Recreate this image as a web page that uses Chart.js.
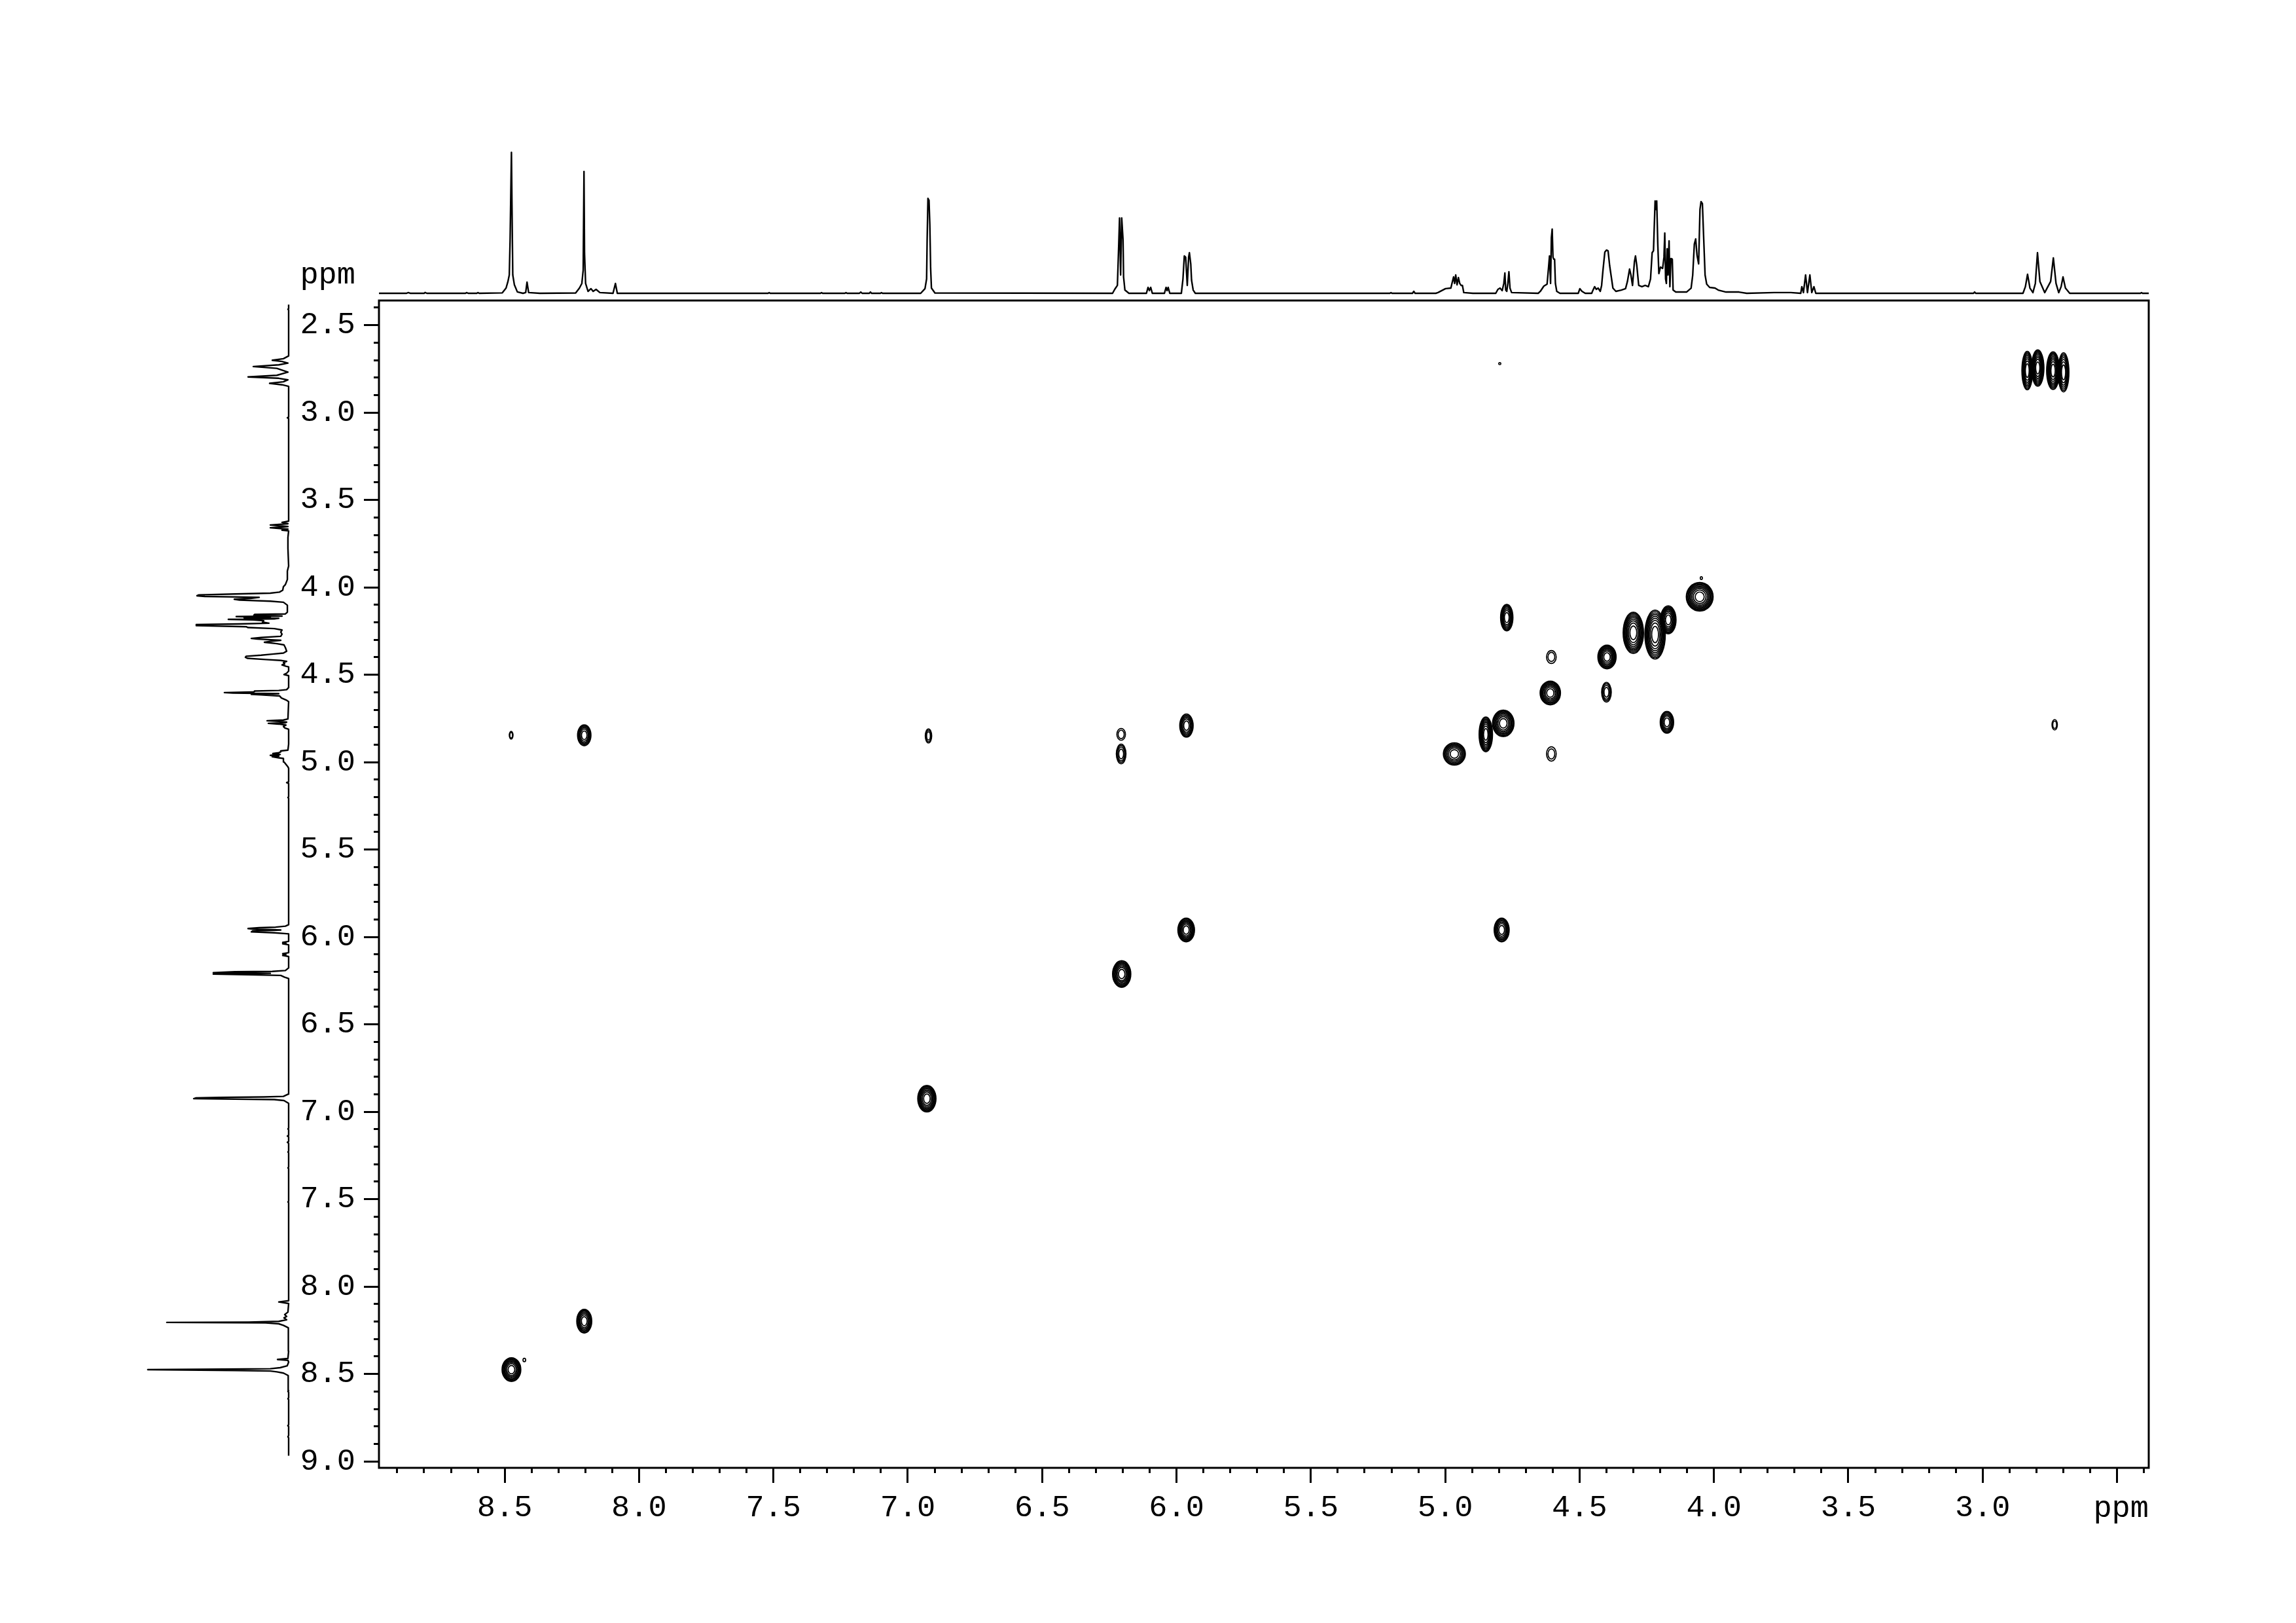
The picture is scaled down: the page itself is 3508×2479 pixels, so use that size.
<!DOCTYPE html>
<html>
<head>
<meta charset="utf-8">
<script src="https://cdn.jsdelivr.net/npm/chart.js@4.4.1/dist/chart.umd.min.js"></script>
<style>
  html, body { margin: 0; padding: 0; background: #fff; }
  body { width: 3508px; height: 2479px; position: relative; overflow: hidden; }
  canvas { position: absolute; }
  #main { left: 0; top: 0; }
  #top { left: 579px; top: 220px; }
  #side { left: 200px; top: 459px; }
</style>
</head>
<body>
<canvas id="main" width="3508" height="2479"></canvas>
<canvas id="top" width="2704" height="230"></canvas>
<canvas id="side" width="243" height="1783"></canvas>
<script>
// 1D proton trace (ppm, relative intensity, tallest line = 100)
const specPpm = [
  8.968, 8.865, 8.859, 8.852, 8.800, 8.796, 8.790, 8.646, 8.642, 8.636,
  8.604, 8.600, 8.595, 8.509, 8.495, 8.488, 8.483, 8.480, 8.475, 8.473,
  8.470, 8.464, 8.453, 8.432, 8.422, 8.417, 8.411, 8.369, 8.236, 8.222,
  8.213, 8.208, 8.205, 8.203, 8.199, 8.190, 8.179, 8.171, 8.160, 8.146,
  8.097, 8.088, 8.081, 7.520, 7.516, 7.512, 7.325, 7.321, 7.317, 7.234,
  7.230, 7.226, 7.180, 7.175, 7.170, 7.143, 7.139, 7.135, 7.102, 7.098,
  7.094, 6.952, 6.936, 6.930, 6.928, 6.925, 6.921, 6.918, 6.915, 6.912,
  6.899, 6.238, 6.230, 6.220, 6.215, 6.212, 6.208, 6.204, 6.199, 6.197,
  6.192, 6.177, 6.112, 6.106, 6.101, 6.096, 6.090, 6.045, 6.039, 6.035,
  6.031, 6.025, 5.982, 5.976, 5.971, 5.966, 5.960, 5.955, 5.952, 5.947,
  5.944, 5.938, 5.930, 5.206, 5.202, 5.198, 5.122, 5.117, 5.112, 5.035,
  5.027, 4.999, 4.979, 4.975, 4.969, 4.965, 4.961, 4.956, 4.951, 4.946,
  4.941, 4.936, 4.931, 4.897, 4.812, 4.804, 4.796, 4.788, 4.782, 4.778,
  4.775, 4.771, 4.767, 4.763, 4.759, 4.753, 4.654, 4.646, 4.633, 4.621,
  4.615, 4.612, 4.608, 4.605, 4.602, 4.599, 4.596, 4.593, 4.590, 4.585,
  4.573, 4.505, 4.499, 4.491, 4.479, 4.455, 4.451, 4.444, 4.438, 4.431,
  4.423, 4.418, 4.413, 4.406, 4.400, 4.394, 4.388, 4.382, 4.376, 4.365,
  4.345, 4.329, 4.322, 4.314, 4.309, 4.303, 4.296, 4.292, 4.287, 4.280,
  4.268, 4.256, 4.244, 4.236, 4.230, 4.225, 4.219, 4.216, 4.213, 4.209,
  4.205, 4.199, 4.191, 4.186, 4.183, 4.180, 4.177, 4.174, 4.171, 4.167,
  4.164, 4.160, 4.155, 4.152, 4.142, 4.102, 4.085, 4.079, 4.073, 4.068,
  4.063, 4.057, 4.052, 4.048, 4.043, 4.038, 4.033, 4.027, 4.016, 3.996,
  3.984, 3.955, 3.907, 3.878, 3.776, 3.714, 3.677, 3.673, 3.667, 3.659,
  3.652, 3.643, 3.636, 3.628, 3.621, 3.034, 3.030, 3.026, 2.850, 2.841,
  2.833, 2.824, 2.813, 2.804, 2.796, 2.787, 2.769, 2.747, 2.737, 2.727,
  2.717, 2.708, 2.701, 2.692, 2.676, 2.413, 2.409, 2.405, 2.382
];
const specInt = [
  0, 0, 0.5, 0, 0, 0.6, 0, 0, 0.5, 0,
  0, 0.5, 0, 0.3, 3.7, 8.4, 13, 37.7, 100, 62.8,
  13, 6, 1, 0, 0.5, 7.9, 0.5, 0, 0.2, 3.7,
  7, 16.3, 86.5, 28.4, 7, 1.4, 3.3, 1.4, 2.8, 0.5,
  0, 7, 0, 0, 0.5, 0, 0, 0.5, 0, 0,
  0.5, 0, 0, 0.9, 0, 0, 0.9, 0, 0, 0.5,
  0, 0, 3.3, 10.2, 38.1, 67.4, 66, 48.8, 17.7, 3.7,
  0.2, 0, 2.8, 5.6, 34.9, 53.5, 13, 53.5, 38.1, 11.6,
  2.3, 0, 0, 4.2, 1.9, 4.2, 0, 0, 4.2, 1.9,
  4.2, 0, 0, 10.2, 26.5, 25.6, 5.6, 25.6, 28.8, 20.9,
  9.3, 2.3, 0, 0, 0.5, 0, 0, 1.4, 0, 0,
  0.5, 3.3, 3.7, 7, 11.6, 7, 13, 6, 11.2, 7,
  5.6, 5.6, 0.5, 0, 0, 2.8, 3.7, 1.9, 7, 14.4,
  2.3, 1.4, 7, 15.3, 3.7, 0.5, 0, 1.4, 5.1, 6.5,
  19.5, 26.5, 7, 39.5, 45.6, 25.6, 24.2, 24.2, 7, 1.4,
  0, 0, 3.3, 1.4, 0, 0, 1.9, 4.7, 2.8, 3.7,
  1.4, 5.6, 16.3, 29.3, 30.7, 30.2, 19.5, 11.6, 3.7, 1.4,
  2.3, 3.3, 8.4, 17.2, 13, 5.6, 22.3, 26.5, 19.5, 5.6,
  4.7, 5.6, 4.7, 10.2, 28.8, 30.2, 65.6, 59.5, 65.6, 34.9,
  14, 18.6, 17.7, 25.6, 42.8, 10.2, 7, 31.6, 13, 37.2,
  4.7, 24.7, 24.2, 2.3, 0.9, 0.9, 3.7, 13, 34.9, 38.6,
  27, 20.9, 59.5, 65.1, 63.7, 38.1, 13, 6.5, 4.2, 3.7,
  2.3, 0.9, 0.9, 0, 0.5, 0.5, 0, 4.7, 0.5, 13,
  0.5, 13, 0.5, 4.7, 0, 0, 0.9, 0, 0, 4.7,
  13.5, 3.7, 0.5, 7, 28.8, 8.4, 0.5, 8.4, 25.1, 7,
  0.5, 4.7, 11.6, 3.7, 0, 0, 0.5, 0, 0
];

// COSY cross peaks: F2 / F1 centre (ppm), half extent (ppm), contour levels
const peakF2 = [8.475, 8.427, 8.204, 8.204, 8.476, 6.929, 6.923, 6.204, 6.206, 6.206,
                5.964, 5.963, 4.790, 4.797, 4.966, 4.849, 4.784, 4.771, 4.605, 4.609,
                4.605, 4.398, 4.400, 4.175, 4.300, 4.219, 4.170, 4.053, 4.047, 2.834,
                2.795, 2.738, 2.699, 2.732];
const peakF1 = [8.475, 8.420, 8.198, 4.846, 4.846, 6.925, 4.850, 6.212, 4.841, 4.953,
                5.960, 4.791, 5.960, 2.720, 4.953, 4.841, 4.778, 4.173, 4.398, 4.604,
                4.953, 4.398, 4.600, 4.772, 4.260, 4.270, 4.186, 4.054, 3.947, 2.760,
                2.745, 2.760, 2.770, 4.786];
const peakHalfF2 = [0.035, 0.005, 0.028, 0.025, 0.007, 0.034, 0.012, 0.034, 0.016, 0.018,
                    0.031, 0.025, 0.028, 0.004, 0.041, 0.025, 0.040, 0.023, 0.018, 0.038,
                    0.018, 0.034, 0.018, 0.025, 0.038, 0.038, 0.029, 0.050, 0.004, 0.020,
                    0.023, 0.024, 0.020, 0.010];
const peakHalfF1 = [0.068, 0.010, 0.068, 0.060, 0.022, 0.076, 0.040, 0.076, 0.034, 0.056,
                    0.068, 0.066, 0.068, 0.006, 0.064, 0.100, 0.076, 0.076, 0.037, 0.068,
                    0.041, 0.068, 0.056, 0.062, 0.118, 0.140, 0.080, 0.082, 0.008, 0.110,
                    0.104, 0.108, 0.112, 0.030];
const peakLevels = [8, 1, 7, 6, 2, 8, 3, 8, 2, 4,
                    8, 6, 7, 1, 7, 9, 8, 7, 2, 8,
                    2, 8, 4, 6, 9, 9, 8, 9, 1, 8,
                    9, 9, 7, 2];

// axes
const f2Min = 2.382, f2Max = 8.968;
const f1Min = 2.359, f1Max = 9.037;
const xTickLabels = ['8.5', '8.0', '7.5', '7.0', '6.5', '6.0', '5.5', '5.0', '4.5', '4.0', '3.5', '3.0'];
const yTickLabels = ['2.5', '3.0', '3.5', '4.0', '4.5', '5.0', '5.5', '6.0', '6.5', '7.0', '7.5', '8.0', '8.5', '9.0'];
const unitLabel = 'ppm';

Chart.defaults.font.family = '"Liberation Mono", "DejaVu Sans Mono", monospace';
Chart.defaults.color = '#000';

const tickFont = { family: '"Liberation Mono", "DejaVu Sans Mono", monospace', size: 47 };
const pick = (labels) => (v) => { const s = Number(v).toFixed(1); return labels.includes(s) ? s : ''; };

const contourPlugin = {
  id: 'contours',
  afterDatasetsDraw(chart) {
    const { ctx, chartArea: a, scales: { x, y } } = chart;
    const meta = chart.getDatasetMeta(0);
    ctx.save();
    ctx.beginPath();
    ctx.rect(a.left, a.top, a.right - a.left, a.bottom - a.top);
    ctx.clip();
    ctx.strokeStyle = '#000';
    ctx.lineWidth = 1.7;
    meta.data.forEach((pt, i) => {
      const rx = Math.abs(x.getPixelForValue(peakF2[i] + peakHalfF2[i]) - pt.x);
      const ry = Math.abs(y.getPixelForValue(peakF1[i] + peakHalfF1[i]) - pt.y);
      const n = peakLevels[i];
      for (let k = 0; k < n; k++) {
        const f = Math.sqrt(1 - k / n);
        ctx.beginPath();
        ctx.ellipse(pt.x, pt.y, Math.max(rx * f, 1), Math.max(ry * f, 1), 0, 0, Math.PI * 2);
        ctx.stroke();
      }
    });
    ctx.restore();
  }
};

const framePlugin = {
  id: 'frame',
  afterDraw(chart) {
    const { ctx, chartArea: a } = chart;
    ctx.save();
    ctx.strokeStyle = '#000';
    ctx.lineWidth = 3;
    ctx.strokeRect(a.left, a.top, a.right - a.left, a.bottom - a.top);
    ctx.fillStyle = '#000';
    ctx.font = '47px "Liberation Mono", "DejaVu Sans Mono", monospace';
    ctx.textAlign = 'right';
    ctx.textBaseline = 'alphabetic';
    ctx.fillText(unitLabel, a.left - 36, a.top - 26);
    ctx.fillText(unitLabel, a.right, a.bottom + 75);
    ctx.restore();
  }
};

const tickGrid = (len) => ({ drawOnChartArea: false, drawTicks: true, tickLength: len, tickWidth: 3, tickColor: '#000', color: '#000' });

// main 2D map
new Chart(document.getElementById('main'), {
  type: 'scatter',
  data: { datasets: [{ data: peakF2.map((v, i) => ({ x: v, y: peakF1[i] })), pointRadius: 0, xAxisID: 'x', yAxisID: 'y' }] },
  options: {
    responsive: false, animation: false, devicePixelRatio: 1, events: [],
    layout: { padding: { left: 449, right: 225, top: 459, bottom: 117 } },
    plugins: { legend: { display: false }, tooltip: { enabled: false } },
    scales: {
      x: {
        type: 'linear', position: 'bottom', reverse: true, min: f2Min, max: f2Max, weight: 1,
        afterFit: (s) => { s.height = 120; },
        border: { display: false }, grid: tickGrid(23),
        ticks: { stepSize: 0.5, includeBounds: false, autoSkip: false, maxRotation: 0, padding: 10, font: tickFont, color: '#000', callback: pick(xTickLabels) }
      },
      xMinor: {
        type: 'linear', position: 'bottom', reverse: true, min: f2Min, max: f2Max, weight: 0,
        afterFit: (s) => { s.height = 0; },
        border: { display: false }, grid: tickGrid(8),
        ticks: { stepSize: 0.1, includeBounds: false, autoSkip: false, display: false }
      },
      y: {
        type: 'linear', position: 'left', reverse: true, min: f1Min, max: f1Max, weight: 1,
        afterFit: (s) => { s.width = 130; },
        border: { display: false }, grid: tickGrid(23),
        ticks: { stepSize: 0.5, includeBounds: false, autoSkip: false, padding: 13, font: tickFont, color: '#000', callback: pick(yTickLabels) }
      },
      yMinor: {
        type: 'linear', position: 'left', reverse: true, min: f1Min, max: f1Max, weight: 0,
        afterFit: (s) => { s.width = 0; },
        border: { display: false }, grid: tickGrid(8),
        ticks: { stepSize: 0.1, includeBounds: false, autoSkip: false, display: false }
      }
    }
  },
  plugins: [contourPlugin, framePlugin]
});

const traceStyle = { showLine: true, borderColor: '#000', borderWidth: 2.4, pointRadius: 0, tension: 0, borderJoinStyle: 'round' };
const plainOpts = (scales) => ({
  responsive: false, animation: false, devicePixelRatio: 1, events: [],
  layout: { padding: 0 },
  plugins: { legend: { display: false }, tooltip: { enabled: false } },
  scales
});

// top projection
new Chart(document.getElementById('top'), {
  type: 'scatter',
  data: { datasets: [Object.assign({ data: specPpm.map((p, i) => ({ x: p, y: specInt[i] })) }, traceStyle)] },
  options: plainOpts({
    x: { type: 'linear', display: false, reverse: true, min: f2Min, max: f2Max },
    y: { type: 'linear', display: false, min: -0.93, max: 105.95 }
  })
});

// left projection
new Chart(document.getElementById('side'), {
  type: 'scatter',
  data: { datasets: [Object.assign({ data: specPpm.map((p, i) => ({ x: specInt[i], y: p })) }, traceStyle)] },
  options: plainOpts({
    x: { type: 'linear', display: false, reverse: true, min: -0.93, max: 112 },
    y: { type: 'linear', display: false, reverse: true, min: f1Min, max: f1Max }
  })
});
</script>
</body>
</html>
